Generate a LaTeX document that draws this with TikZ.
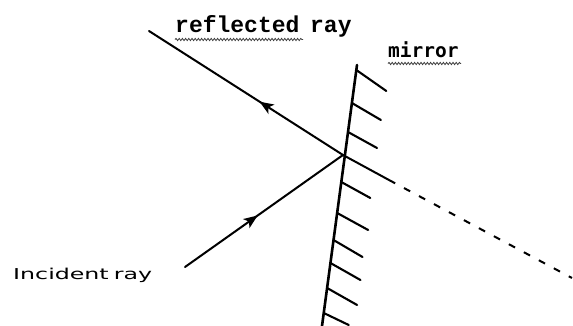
\documentclass[tikz,border=0pt]{standalone}
\usepackage{fontspec}
\usepackage{graphicx}
\usetikzlibrary{arrows.meta,decorations.markings,decorations.pathmorphing}
\newfontfamily\typewfont{Liberation Mono}
\newfontfamily\mirrfont{DejaVu Sans Mono}
\newfontfamily\incfont{DejaVu Sans}
\tikzset{
  ray/.style={line width=2pt, line cap=round},
  mirrorline/.style={line width=2.6pt, line cap=round},
  hatch/.style={line width=2.1pt, line cap=round},
  virtual/.style={line width=2pt, dash pattern=on 7pt off 10pt},
  midarrow/.style={postaction={decorate},decoration={markings,
     mark=at position #1 with {\arrow{Stealth[length=14pt,width=11pt,inset=3.5pt]}}}},
  squiggle/.style={draw=black!75, line width=0.8pt,
     decorate, decoration={snake, amplitude=1.1pt, segment length=3.2pt}},
  lbl/.style={inner sep=0pt, anchor=base west}
}
\begin{document}
\begin{tikzpicture}[x=1pt,y=-1pt]
\useasboundingbox[fill=white] (0,0) rectangle (573,326);
% key points
\coordinate (R) at (149,31);
\coordinate (P) at (343,155);
\coordinate (I) at (185,267);
\coordinate (Mt) at (357,65);
\coordinate (Mb) at (322,326);
\coordinate (Ds) at (389,180);
\coordinate (De) at (572,278);
% mirror
\draw[mirrorline] (Mt) -- (Mb);
% hatching
\foreach \yy/\dx/\dy in {70/30/21,103/29/17,132/29/16,182/29/16,213/31/17,240/29/17,263/30/17,288/30/17,313/25/12}{
  \pgfmathsetmacro{\xx}{357-35*(\yy-65)/261}
  \draw[hatch] (\xx,\yy) -- ++(\dx,\dy);
}
% rays
\draw[ray, midarrow=0.43] (P) -- (R);
\draw[ray, midarrow=0.46] (I) -- (P);
\draw[ray] (P) -- (Ds);
\draw[virtual] (Ds) -- (De);
% labels
\node[lbl] (rl) at (175,33) {\typewfont\bfseries\fontsize{23}{23}\selectfont reflected\hspace{-3pt} ray};
\draw[squiggle] (175,39.5) -- (303,39.5);
\node[lbl] (ml) at (388,58) {\mirrfont\bfseries\fontsize{19.5}{19.5}\selectfont mirror};
\draw[squiggle] (388,63.5) -- (461,63.5);
\node[lbl] (il) at (13,279) {\scalebox{1.58}[1]{\incfont\fontsize{15}{15}\selectfont Incident\hspace{-1.5pt} ray}};
\end{tikzpicture}
\end{document}
